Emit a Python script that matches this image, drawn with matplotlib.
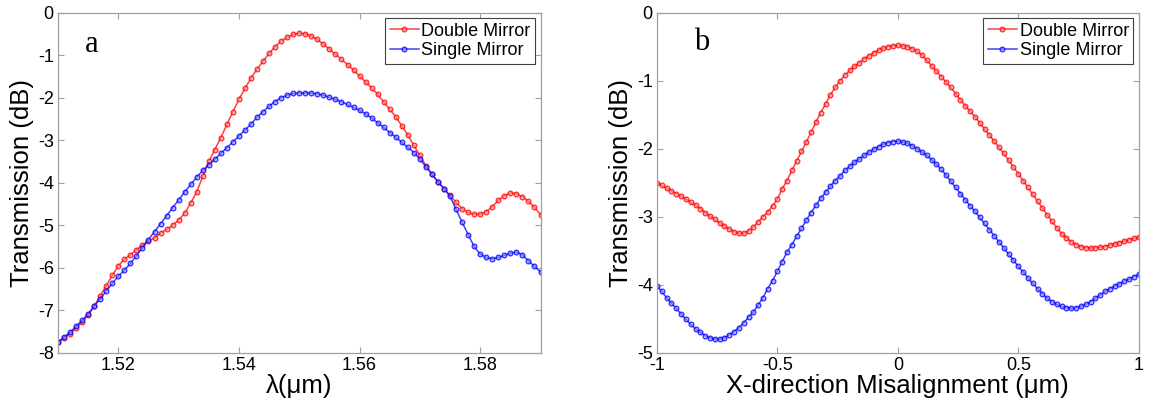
import numpy as np
import matplotlib
matplotlib.use("Agg")
from matplotlib import pyplot as plt

# (a) transmission vs wavelength, 1.510 .. 1.590 um in 1 nm steps
wavelength = np.round(np.arange(1.510, 1.5905, 0.001), 3)
double_a = [-7.75, -7.65, -7.55, -7.42, -7.28, -7.12, -6.90, -6.66, -6.42, -6.18,
            -5.96, -5.80, -5.70, -5.58, -5.46, -5.37, -5.30, -5.19, -5.10, -5.00,
            -4.88, -4.72, -4.48, -4.22, -3.85, -3.50, -3.22, -2.94, -2.63, -2.33,
            -2.04, -1.78, -1.54, -1.33, -1.14, -0.96, -0.80, -0.67, -0.58, -0.51,
            -0.48, -0.50, -0.55, -0.63, -0.74, -0.86, -0.98, -1.10, -1.22, -1.35,
            -1.49, -1.63, -1.77, -1.92, -2.10, -2.27, -2.45, -2.66, -2.88, -3.12,
            -3.36, -3.60, -3.80, -3.98, -4.14, -4.30, -4.46, -4.61, -4.70, -4.74,
            -4.74, -4.68, -4.57, -4.41, -4.31, -4.24, -4.26, -4.33, -4.44, -4.58,
            -4.75]
single_a = [-7.75, -7.64, -7.52, -7.38, -7.24, -7.08, -6.91, -6.73, -6.55, -6.37,
            -6.20, -6.06, -5.90, -5.72, -5.53, -5.34, -5.15, -4.97, -4.78, -4.59,
            -4.41, -4.22, -4.04, -3.87, -3.71, -3.58, -3.45, -3.31, -3.18, -3.04,
            -2.90, -2.76, -2.62, -2.46, -2.33, -2.20, -2.09, -2.00, -1.94, -1.90,
            -1.89, -1.89, -1.89, -1.91, -1.94, -1.99, -2.04, -2.10, -2.16, -2.23,
            -2.30, -2.38, -2.48, -2.59, -2.70, -2.82, -2.93, -3.05, -3.17, -3.29,
            -3.45, -3.62, -3.80, -3.98, -4.14, -4.32, -4.63, -4.93, -5.22, -5.50,
            -5.68, -5.76, -5.79, -5.76, -5.71, -5.66, -5.63, -5.70, -5.84, -5.97,
            -6.10]

# (b) transmission vs lateral offset, -1 .. 1 um in 0.02 um steps
offset = np.round(np.linspace(-1, 1, 101), 2)
double_b = [-2.50, -2.54, -2.58, -2.62, -2.66, -2.70, -2.74, -2.79, -2.83, -2.88,
            -2.94, -2.99, -3.04, -3.09, -3.14, -3.18, -3.22, -3.24, -3.245, -3.21,
            -3.15, -3.08, -3.00, -2.93, -2.84, -2.74, -2.59, -2.47, -2.32, -2.18,
            -2.04, -1.90, -1.76, -1.61, -1.47, -1.34, -1.21, -1.10, -1.00, -0.92,
            -0.85, -0.79, -0.74, -0.68, -0.63, -0.59, -0.55, -0.52, -0.50, -0.485,
            -0.48, -0.485, -0.50, -0.53, -0.57, -0.62, -0.70, -0.78, -0.86, -0.94,
            -1.02, -1.10, -1.19, -1.28, -1.37, -1.45, -1.53, -1.62, -1.71, -1.80,
            -1.89, -1.98, -2.07, -2.17, -2.27, -2.37, -2.47, -2.57, -2.67, -2.77,
            -2.87, -2.97, -3.07, -3.16, -3.25, -3.31, -3.37, -3.41, -3.44, -3.455,
            -3.46, -3.455, -3.45, -3.44, -3.42, -3.40, -3.38, -3.36, -3.34, -3.32,
            -3.30]
single_b = [-4.02, -4.10, -4.19, -4.27, -4.35, -4.43, -4.51, -4.58, -4.65, -4.70,
            -4.75, -4.78, -4.80, -4.80, -4.78, -4.74, -4.69, -4.63, -4.56, -4.48,
            -4.40, -4.30, -4.19, -4.06, -3.94, -3.80, -3.66, -3.52, -3.41, -3.29,
            -3.17, -3.05, -2.94, -2.83, -2.73, -2.64, -2.55, -2.47, -2.40, -2.32,
            -2.26, -2.20, -2.15, -2.10, -2.05, -2.01, -1.97, -1.93, -1.91, -1.895,
            -1.89, -1.90, -1.92, -1.96, -2.00, -2.05, -2.10, -2.16, -2.23, -2.30,
            -2.39, -2.48, -2.57, -2.66, -2.75, -2.84, -2.92, -3.01, -3.10, -3.19,
            -3.28, -3.37, -3.46, -3.55, -3.64, -3.73, -3.81, -3.90, -3.98, -4.06,
            -4.13, -4.20, -4.25, -4.29, -4.32, -4.34, -4.345, -4.34, -4.32, -4.29,
            -4.25, -4.20, -4.15, -4.10, -4.06, -4.02, -3.99, -3.95, -3.92, -3.88,
            -3.85]

labels = ["Double Mirror", "Single Mirror"]
xticks_a = [1.52, 1.54, 1.56, 1.58]
xticklabels_a = ["1.52", "1.54", "1.56", "1.58"]
xticks_b = [-1, -0.5, 0, 0.5, 1]
xticklabels_b = ["-1", "-0.5", "0", "0.5", "1"]

plt.rcParams['font.family'] = ['Liberation Sans', 'DejaVu Sans']
plt.rcParams['axes.unicode_minus'] = False

fig = plt.figure(figsize=(11.53, 4.04), dpi=100)
ax1 = fig.add_axes([0.0503, 0.127, 0.4185, 0.8416])
ax2 = fig.add_axes([0.5698, 0.127, 0.4178, 0.8416])


def draw(ax, x, y1, y2):
    ax.plot(x, y1, '-o', color=(1, 0, 0, 0.75), lw=1.1, ms=3.4, mew=0.9,
            mfc=(1, 0.55, 0.55, 0.6), mec=(1, 0, 0, 0.8), label=labels[0])
    ax.plot(x, y2, '-o', color=(0, 0, 1, 0.75), lw=1.1, ms=3.4, mew=0.9,
            mfc=(0.55, 0.55, 1, 0.6), mec=(0, 0, 1, 0.8), label=labels[1])
    for s in ax.spines.values():
        s.set_color('#a0a0a0')
        s.set_linewidth(0.9)
    ax.tick_params(direction='in', top=True, right=True, color='#a0a0a0',
                   labelsize=13, length=4, width=0.8, pad=3)
    ax.set_ylabel('Transmission (dB)', fontsize=18.5, labelpad=3)
    leg = ax.legend(loc='upper right', fontsize=13, fancybox=False,
                    framealpha=1, edgecolor='#404040', borderaxespad=0.3,
                    handlelength=1.6, handletextpad=0.15, borderpad=0.25,
                    labelspacing=0.15)
    leg.get_frame().set_linewidth(0.8)


draw(ax1, wavelength, double_a, single_a)
ax1.set_xlim(1.51, 1.59)
ax1.set_ylim(-8, 0)
ax1.set_xticks(xticks_a, xticklabels_a)
ax1.set_yticks(range(-8, 1))
ax1.set_xlabel('λ(μm)', fontsize=18.5, labelpad=0)
ax1.text(0.07, 0.905, 'a', transform=ax1.transAxes, fontsize=22,
         family='Liberation Serif', ha='center', va='center')

draw(ax2, offset, double_b, single_b)
ax2.set_xlim(-1, 1)
ax2.set_ylim(-5, 0)
ax2.set_xticks(xticks_b, xticklabels_b)
ax2.set_yticks(range(-5, 1))
ax2.set_xlabel('X-direction Misalignment (μm)', fontsize=18.5, labelpad=0)
ax2.text(0.093, 0.912, 'b', transform=ax2.transAxes, fontsize=22,
         family='Liberation Serif', ha='center', va='center')

fig.savefig('out.png', dpi=100)
